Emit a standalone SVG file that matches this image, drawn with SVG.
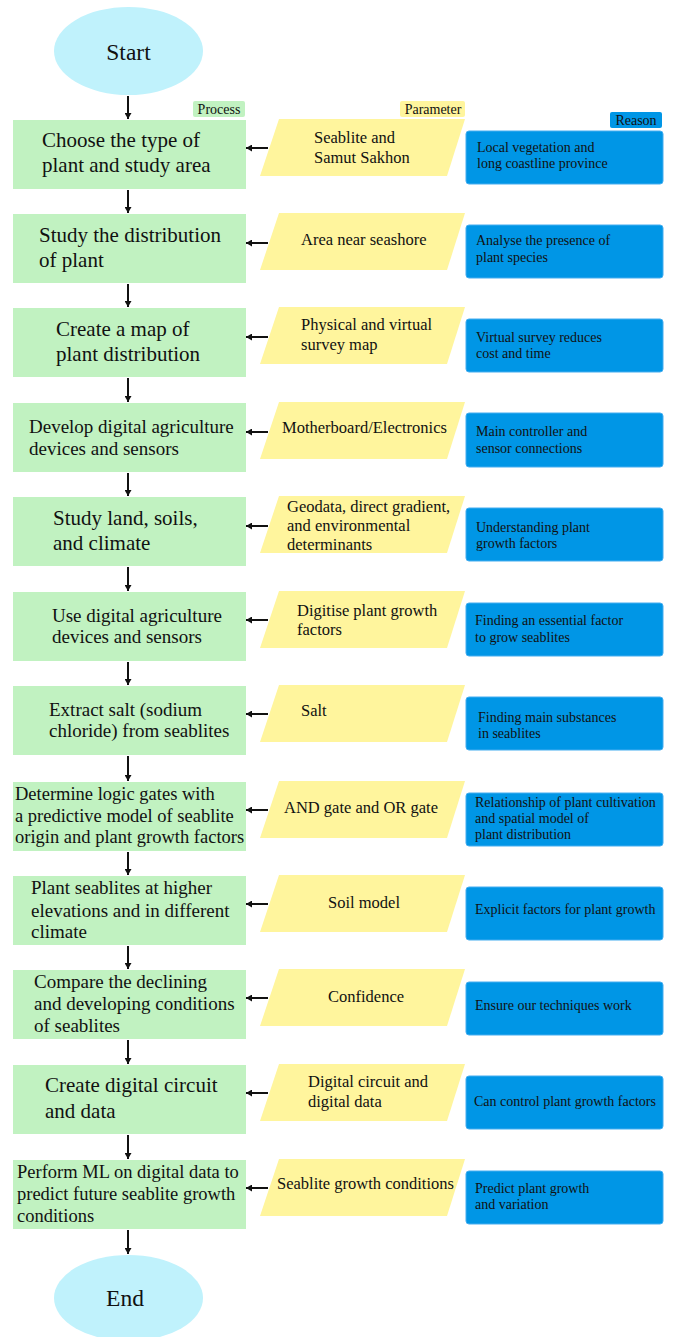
<svg xmlns="http://www.w3.org/2000/svg" width="673" height="1337" viewBox="0 0 673 1337">
<defs>
<marker id="ah" markerUnits="userSpaceOnUse" markerWidth="6" markerHeight="7" refX="6" refY="3.5" orient="auto">
<path d="M0,0 L6,3.5 L0,7 z" fill="#111"/>
</marker>
<style>
.term{fill:#c0f2fc;}
.proc{fill:#c1f2c1;}
.param{fill:#fff59d;}
.reason{fill:#0096e6;stroke:#45adf0;stroke-width:1;}
.t{font-family:"Liberation Serif","Times New Roman",serif;fill:#111;}
.tp{font-size:21px;}
.tm{font-size:19px;}
.ts{font-size:18.5px;}
.pa{font-size:16.5px;}
.re{font-size:14px;}
.lab{font-size:14px;}
.conn line{stroke:#111;stroke-width:2;marker-end:url(#ah);}
</style>
</defs>
<rect width="673" height="1337" fill="#ffffff"/>

<g id="legend">
<rect x="193" y="101" width="52" height="16" rx="2" class="proc"/>
<text x="219" y="113.5" class="t lab" text-anchor="middle">Process</text>
<rect x="400" y="101" width="65" height="16" rx="2" class="param"/>
<text x="433" y="113.5" class="t lab" text-anchor="middle">Parameter</text>
<rect x="610" y="112" width="52" height="16" rx="2" fill="#0096e6"/>
<text x="636" y="124.5" class="t lab" text-anchor="middle">Reason</text>
</g>

<g id="start">
<ellipse cx="128.5" cy="51" rx="74.5" ry="44" class="term"/>
<text x="128.5" y="59.5" class="t" font-size="23.5" text-anchor="middle">Start</text>
</g>

<g id="end">
<ellipse cx="128.5" cy="1298" rx="74.5" ry="43" class="term"/>
<text x="125" y="1306" class="t" font-size="23.5" text-anchor="middle">End</text>
</g>

<g id="p1"><rect x="13" y="120" width="233" height="69" class="proc"/>
<text class="t tp"><tspan x="42" y="147">Choose the type of</tspan><tspan x="42" y="172">plant and study area</tspan></text></g>
<g id="q1"><polygon points="279,119 465,119 447,176 260,176" class="param"/>
<text class="t pa"><tspan x="314" y="143">Seablite and</tspan><tspan x="314" y="163">Samut Sakhon</tspan></text></g>
<g id="r1"><rect x="466" y="131" width="197" height="53" rx="3" class="reason"/>
<text class="t re"><tspan x="477" y="152">Local vegetation and</tspan><tspan x="477" y="168">long coastline province</tspan></text></g>

<g id="p2"><rect x="13" y="214" width="233" height="69" class="proc"/>
<text class="t tp"><tspan x="39" y="242">Study the distribution</tspan><tspan x="39" y="267">of plant</tspan></text></g>
<g id="q2"><polygon points="279,213 465,213 447,270 260,270" class="param"/>
<text class="t pa"><tspan x="301" y="245">Area near seashore</tspan></text></g>
<g id="r2"><rect x="466" y="225" width="197" height="53" rx="3" class="reason"/>
<text class="t re"><tspan x="476" y="245">Analyse the presence of</tspan><tspan x="476" y="262">plant species</tspan></text></g>

<g id="p3"><rect x="13" y="308" width="233" height="69" class="proc"/>
<text class="t tp"><tspan x="56" y="336">Create a map of</tspan><tspan x="56" y="361">plant distribution</tspan></text></g>
<g id="q3"><polygon points="279,307 465,307 447,364 260,364" class="param"/>
<text class="t pa"><tspan x="301" y="330">Physical and virtual</tspan><tspan x="301" y="350">survey map</tspan></text></g>
<g id="r3"><rect x="466" y="319" width="197" height="53" rx="3" class="reason"/>
<text class="t re"><tspan x="476" y="342">Virtual survey reduces</tspan><tspan x="476" y="358">cost and time</tspan></text></g>

<g id="p4"><rect x="13" y="403" width="233" height="69" class="proc"/>
<text class="t tm"><tspan x="29" y="433">Develop digital agriculture</tspan><tspan x="29" y="455">devices and sensors</tspan></text></g>
<g id="q4"><polygon points="279,402 465,402 447,459 260,459" class="param"/>
<text class="t pa"><tspan x="282" y="433">Motherboard/Electronics</tspan></text></g>
<g id="r4"><rect x="466" y="413" width="197" height="54" rx="3" class="reason"/>
<text class="t re"><tspan x="476" y="436">Main controller and</tspan><tspan x="476" y="453">sensor connections</tspan></text></g>

<g id="p5"><rect x="13" y="497" width="233" height="69" class="proc"/>
<text class="t tp"><tspan x="53" y="525">Study land, soils,</tspan><tspan x="53" y="550">and climate</tspan></text></g>
<g id="q5"><polygon points="279,496 465,496 447,553 260,553" class="param"/>
<text class="t pa"><tspan x="287" y="512">Geodata, direct gradient,</tspan><tspan x="287" y="531">and environmental</tspan><tspan x="287" y="550">determinants</tspan></text></g>
<g id="r5"><rect x="466" y="508" width="197" height="53" rx="3" class="reason"/>
<text class="t re"><tspan x="476" y="532">Understanding plant</tspan><tspan x="476" y="548">growth factors</tspan></text></g>

<g id="p6"><rect x="13" y="592" width="233" height="69" class="proc"/>
<text class="t tm"><tspan x="52" y="622">Use digital agriculture</tspan><tspan x="52" y="643">devices and sensors</tspan></text></g>
<g id="q6"><polygon points="279,591 465,591 447,648 260,648" class="param"/>
<text class="t pa"><tspan x="297" y="616">Digitise plant growth</tspan><tspan x="297" y="635">factors</tspan></text></g>
<g id="r6"><rect x="466" y="603" width="197" height="53" rx="3" class="reason"/>
<text class="t re"><tspan x="475" y="625">Finding an essential factor</tspan><tspan x="475" y="642">to grow seablites</tspan></text></g>

<g id="p7"><rect x="13" y="686" width="233" height="69" class="proc"/>
<text class="t tm"><tspan x="49" y="716">Extract salt (sodium</tspan><tspan x="49" y="737">chloride) from seablites</tspan></text></g>
<g id="q7"><polygon points="279,685 465,685 447,742 260,742" class="param"/>
<text class="t pa"><tspan x="301" y="716">Salt</tspan></text></g>
<g id="r7"><rect x="466" y="697" width="197" height="53" rx="3" class="reason"/>
<text class="t re"><tspan x="478" y="722">Finding main substances</tspan><tspan x="478" y="738">in seablites</tspan></text></g>

<g id="p8"><rect x="13" y="782" width="233" height="69" class="proc"/>
<text class="t ts"><tspan x="15" y="800">Determine logic gates with</tspan><tspan x="15" y="822">a predictive model of seablite</tspan><tspan x="15" y="843">origin and plant growth factors</tspan></text></g>
<g id="q8"><polygon points="279,781 465,781 447,838 260,838" class="param"/>
<text class="t pa"><tspan x="284" y="813">AND gate and OR gate</tspan></text></g>
<g id="r8"><rect x="466" y="793" width="197" height="53" rx="3" class="reason"/>
<text class="t re"><tspan x="475" y="807">Relationship of plant cultivation</tspan><tspan x="475" y="823">and spatial model of</tspan><tspan x="475" y="839">plant distribution</tspan></text></g>

<g id="p9"><rect x="13" y="876" width="233" height="69" class="proc"/>
<text class="t tm"><tspan x="31" y="894">Plant seablites at higher</tspan><tspan x="31" y="917">elevations and in different</tspan><tspan x="31" y="938">climate</tspan></text></g>
<g id="q9"><polygon points="279,875 465,875 447,932 260,932" class="param"/>
<text class="t pa"><tspan x="328" y="908">Soil model</tspan></text></g>
<g id="r9"><rect x="466" y="887" width="197" height="53" rx="3" class="reason"/>
<text class="t re"><tspan x="475" y="914">Explicit factors for plant growth</tspan></text></g>

<g id="p10"><rect x="13" y="970" width="233" height="69" class="proc"/>
<text class="t tm"><tspan x="34" y="988">Compare the declining</tspan><tspan x="34" y="1010">and developing conditions</tspan><tspan x="34" y="1032">of seablites</tspan></text></g>
<g id="q10"><polygon points="279,969 465,969 447,1026 260,1026" class="param"/>
<text class="t pa"><tspan x="328" y="1002">Confidence</tspan></text></g>
<g id="r10"><rect x="466" y="982" width="197" height="53" rx="3" class="reason"/>
<text class="t re"><tspan x="475" y="1010">Ensure our techniques work</tspan></text></g>

<g id="p11"><rect x="13" y="1065" width="233" height="69" class="proc"/>
<text class="t tp"><tspan x="45" y="1092">Create digital circuit</tspan><tspan x="45" y="1118">and data</tspan></text></g>
<g id="q11"><polygon points="279,1064 465,1064 447,1121 260,1121" class="param"/>
<text class="t pa"><tspan x="308" y="1087">Digital circuit and</tspan><tspan x="308" y="1107">digital data</tspan></text></g>
<g id="r11"><rect x="466" y="1076" width="197" height="53" rx="3" class="reason"/>
<text class="t re"><tspan x="474" y="1106">Can control plant growth factors</tspan></text></g>

<g id="p12"><rect x="13" y="1160" width="233" height="69" class="proc"/>
<text class="t ts"><tspan x="17" y="1178">Perform ML on digital data to</tspan><tspan x="17" y="1200">predict future seablite growth</tspan><tspan x="17" y="1222">conditions</tspan></text></g>
<g id="q12"><polygon points="279,1159 465,1159 447,1216 260,1216" class="param"/>
<text class="t pa"><tspan x="277" y="1189">Seablite growth conditions</tspan></text></g>
<g id="r12"><rect x="466" y="1171" width="197" height="53" rx="3" class="reason"/>
<text class="t re"><tspan x="475" y="1193">Predict plant growth</tspan><tspan x="475" y="1209">and variation</tspan></text></g>

<g id="connectors" class="conn">
<line x1="128" y1="96" x2="128" y2="119"/>
<line x1="128" y1="190" x2="128" y2="213"/>
<line x1="128" y1="284" x2="128" y2="307"/>
<line x1="128" y1="378" x2="128" y2="402"/>
<line x1="128" y1="473" x2="128" y2="496"/>
<line x1="128" y1="567" x2="128" y2="591"/>
<line x1="128" y1="662" x2="128" y2="685"/>
<line x1="128" y1="756" x2="128" y2="781"/>
<line x1="128" y1="852" x2="128" y2="875"/>
<line x1="128" y1="946" x2="128" y2="969"/>
<line x1="128" y1="1040" x2="128" y2="1064"/>
<line x1="128" y1="1135" x2="128" y2="1159"/>
<line x1="128" y1="1230" x2="128" y2="1254"/>
<line x1="268" y1="148" x2="246" y2="148"/>
<line x1="268" y1="243" x2="246" y2="243"/>
<line x1="268" y1="337" x2="246" y2="337"/>
<line x1="268" y1="432" x2="246" y2="432"/>
<line x1="268" y1="526" x2="246" y2="526"/>
<line x1="268" y1="620" x2="246" y2="620"/>
<line x1="268" y1="714" x2="246" y2="714"/>
<line x1="268" y1="810" x2="246" y2="810"/>
<line x1="268" y1="904" x2="246" y2="904"/>
<line x1="268" y1="998" x2="246" y2="998"/>
<line x1="268" y1="1093" x2="246" y2="1093"/>
<line x1="268" y1="1188" x2="246" y2="1188"/>
</g>
</svg>
